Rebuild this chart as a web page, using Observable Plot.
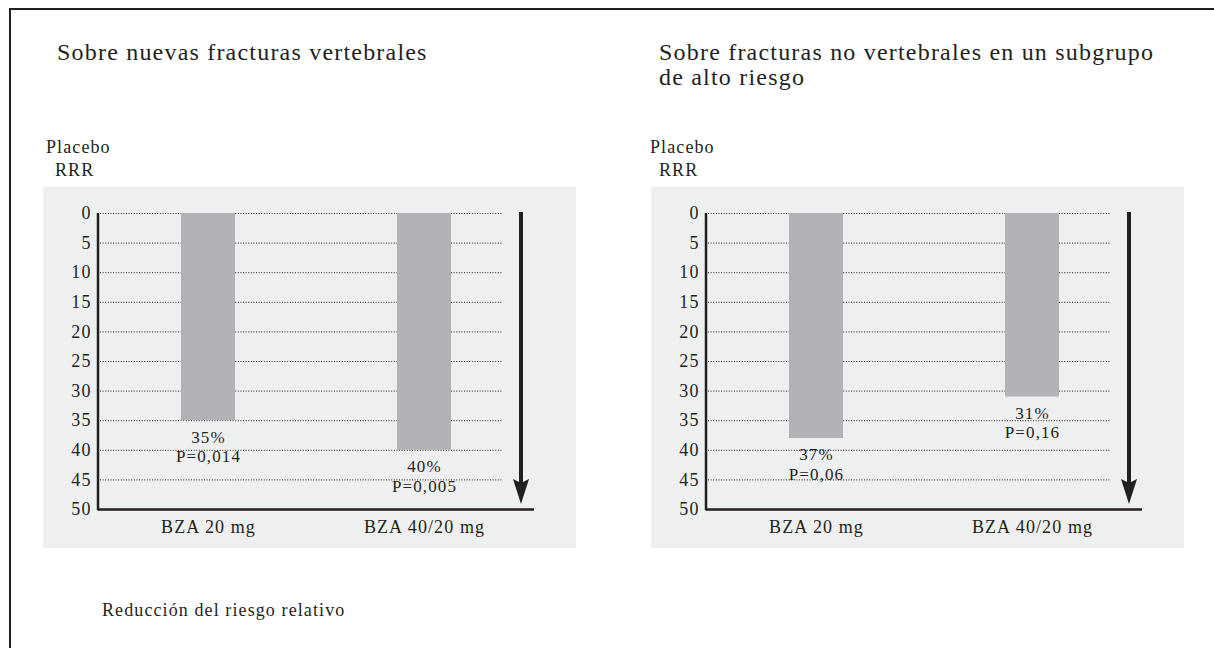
<!DOCTYPE html>
<html>
<head>
<meta charset="utf-8">
<script src="https://cdn.jsdelivr.net/npm/d3@7"></script>
<script src="https://cdn.jsdelivr.net/npm/@observablehq/plot@0.6"></script>
<style>
  html, body { margin: 0; padding: 0; background: #fff; }
  #page { position: relative; width: 1214px; height: 648px; overflow: hidden; background: #fff;
          font-family: "Liberation Serif", serif; color: #231f20; }
  .rule-top { position: absolute; left: 9px; top: 8px; right: 0; height: 2px; background: #231f20; }
  .rule-left { position: absolute; left: 9px; top: 8px; bottom: 0; width: 2px; background: #231f20; }
  .title { position: absolute; font-size: 24px; line-height: 25px; letter-spacing: 1.2px; white-space: nowrap; }
  .small { position: absolute; font-size: 18px; line-height: 23px; letter-spacing: 1.1px; white-space: nowrap; }
  .panel { position: absolute; top: 187px; }
</style>
</head>
<body>
<div id="page">
  <div class="rule-top"></div>
  <div class="rule-left"></div>
  <div class="title" id="t1" style="left:57px; top:40px;"></div>
  <div class="title" id="t2" style="left:659px; top:40px;"></div>
  <div class="small" id="p1" style="left:46px; top:136px;"></div>
  <div class="small" id="r1" style="left:55px; top:159px;"></div>
  <div class="small" id="p2" style="left:650px; top:136px;"></div>
  <div class="small" id="r2" style="left:659px; top:159px;"></div>
  <div class="panel" id="left" style="left:43px;"></div>
  <div class="panel" id="right" style="left:651px;"></div>
  <div class="small" id="cap" style="left:102px; top:599px;"></div>
</div>
<script>
// ---- data ----
const categories = ["BZA 20 mg", "BZA 40/20 mg"];
const yTicks = [0, 5, 10, 15, 20, 25, 30, 35, 40, 45, 50];
const gridTicks = [0, 5, 10, 15, 20, 25, 30, 35, 40, 45];

const titleVertebral = ["Sobre nuevas fracturas vertebrales"];
const titleNoVertebral = ["Sobre fracturas no vertebrales en un subgrupo", "de alto riesgo"];
const axisTitle = ["Placebo", "RRR"];
const caption = "Reducción del riesgo relativo";

// Panel 1: new vertebral fractures
const vertebralRRR = [35, 40];
const vertebralPct = ["35%", "40%"];
const vertebralP = ["P=0,014", "P=0,005"];

// Panel 2: non-vertebral fractures, high-risk subgroup (bar heights as drawn)
const noVertebralRRR = [38, 31];
const noVertebralPct = ["37%", "31%"];
const noVertebralP = ["P=0,06", "P=0,16"];

// ---- text ----
document.getElementById("t1").innerHTML = titleVertebral.join("<br>");
document.getElementById("t2").innerHTML = titleNoVertebral.join("<br>");
document.getElementById("p1").textContent = axisTitle[0];
document.getElementById("r1").textContent = axisTitle[1];
document.getElementById("p2").textContent = axisTitle[0];
document.getElementById("r2").textContent = axisTitle[1];
document.getElementById("cap").textContent = caption;

const ink = "#231f20";

function axisAndArrow(index, scales, values, dimensions) {
  const {width, marginRight, marginLeft} = dimensions;
  const y0 = scales.y(yTicks[0]);
  const yEnd = scales.y(yTicks[yTicks.length - 1]);
  const g = d3.create("svg:g");
  g.append("line")
    .attr("x1", marginLeft).attr("x2", marginLeft)
    .attr("y1", y0).attr("y2", yEnd + 1.25)
    .attr("stroke", ink).attr("stroke-width", 2.5);
  const ax = width - marginRight - 13;
  const tip = yEnd - 5;
  g.append("line")
    .attr("x1", ax).attr("x2", ax)
    .attr("y1", y0 - 1).attr("y2", tip - 19)
    .attr("stroke", ink).attr("stroke-width", 4);
  g.append("path")
    .attr("fill", ink)
    .attr("d", `M${ax - 8},${tip - 25}L${ax},${tip - 21}L${ax + 8},${tip - 25}L${ax},${tip}Z`);
  return g.node();
}

function panel(values, pcts, ps) {
  const data = categories.map((c, i) => ({cat: c, v: values[i], label: pcts[i] + "\n" + ps[i]}));
  return Plot.plot({
    width: 533,
    height: 361,
    marginLeft: 55,
    marginRight: 42,
    marginTop: 26,
    marginBottom: 39,
    style: {
      background: "#eef0ef",
      fontFamily: "'Liberation Serif', serif",
      fontSize: "18px",
      color: ink,
      letterSpacing: "1.1px",
      overflow: "visible"
    },
    x: {domain: categories, paddingInner: 0.75, paddingOuter: 0.384, align: 0.5, label: null},
    y: {domain: [0, 50], reverse: true, label: null},
    marks: [
      Plot.ruleY(gridTicks, {stroke: ink, strokeWidth: 1, strokeDasharray: "1,1.6", insetLeft: 2, insetRight: 31}),
      Plot.barY(data, {x: "cat", y: "v", fill: "#b1b2b5"}),
      Plot.text(data, {x: "cat", y: "v", text: "label", lineAnchor: "top", dy: 8, lineHeight: 1.15, fill: ink, fontSize: 17}),
      Plot.ruleY([50], {stroke: ink, strokeWidth: 2.5}),
      Plot.axisY({ticks: yTicks, tickSize: 0, tickPadding: 7, tickFormat: d => String(d), fontSize: 18, label: null}),
      Plot.axisX({tickSize: 0, tickPadding: 11, fontSize: 18, label: null}),
      axisAndArrow
    ]
  });
}

document.getElementById("left").append(panel(vertebralRRR, vertebralPct, vertebralP));
document.getElementById("right").append(panel(noVertebralRRR, noVertebralPct, noVertebralP));
</script>
</body>
</html>
